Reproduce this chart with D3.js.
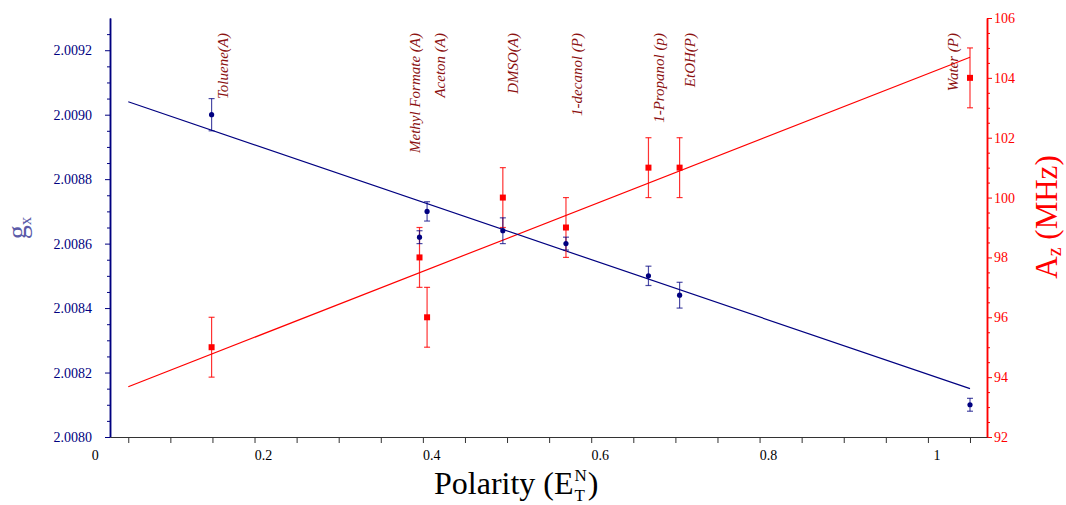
<!DOCTYPE html>
<html>
<head>
<meta charset="utf-8">
<script src="https://cdn.jsdelivr.net/npm/d3@7"></script>
<style>
  body { margin: 0; background: #fff; }
  text { font-family: "Liberation Serif", "Times New Roman", serif; }
</style>
</head>
<body>
<svg width="1066" height="505"></svg>
<script>
// solvents, polarity (E_T^N) and measured values
const solvents = ["Toluene(A)", "Methyl Formate (A)", "Aceton (A)", "DMSO(A)", "1-decanol (P)", "1-Propanol (p)", "EtOH(P)", "Water (P)"];
const polarity = [0.149, 0.396, 0.405, 0.495, 0.570, 0.668, 0.705, 1.050];
const labelPos = [0.1685, 0.3966, 0.4263, 0.513, 0.589, 0.6865, 0.7233, 1.0358];
const gx = [2.00900, 2.00862, 2.00870, 2.00864, 2.00860, 2.00850, 2.00844, 2.00810];
const gxErr = [0.00005, 0.00002, 0.00003, 0.00004, 0.00002, 0.00003, 0.00004, 0.00002];
const az = [95, 98, 96, 100, 99, 101, 101, 104];
const azErr = [1, 1, 1, 1, 1, 1, 1, 1];

// linear fits (end points)
const fitX = [0.05, 1.05];
const fitGx = [2.00904, 2.00815];
const fitAz = [93.68, 104.69];

const xLabels = [0, 0.2, 0.4, 0.6, 0.8, 1];

const navy = '#000080', red = '#ff0000';
let svg = d3.select('svg');

let x = d3.scaleLinear().domain([0.0283, 1.0702]).range([110, 987]);
let yL = d3.scaleLinear().domain([2.0080, 2.0093]).range([437, 18]);
let yR = d3.scaleLinear().domain([92, 106]).range([437, 18]);

// ---- axes ----
let leftMajor = d3.range(7).map(i => 2.0080 + i * 0.0002);
let leftMinor = d3.range(26).filter(i => i % 4 != 0).map(i => 2.0080 + i * 0.00005);
let rightMajor = d3.range(8).map(i => 92 + i * 2);
let rightMinor = d3.range(28).filter(i => i % 4 != 0).map(i => 92 + i * 0.5);

function styleAxis(g, col) {
  g.select('.domain').attr('stroke', col).attr('stroke-width', 1.5);
  g.selectAll('.tick line').attr('stroke', col);
  g.selectAll('.tick text').attr('fill', col).style('font-size', '14px')
    .style('font-family', '"Liberation Serif", serif');
}

let gLeft = svg.append('g').attr('transform', 'translate(110,0)')
  .call(d3.axisLeft(yL).tickValues(leftMajor).tickFormat(d3.format('.4f'))
    .tickSizeInner(5).tickSizeOuter(0).tickPadding(13));
styleAxis(gLeft, navy);
let gLeftMinor = svg.append('g').attr('transform', 'translate(110,0)')
  .call(d3.axisLeft(yL).tickValues(leftMinor).tickFormat('').tickSizeInner(3).tickSizeOuter(0));
styleAxis(gLeftMinor, navy);

let gRight = svg.append('g').attr('transform', 'translate(987,0)')
  .call(d3.axisRight(yR).tickValues(rightMajor).tickFormat(d3.format('d'))
    .tickSizeInner(5).tickSizeOuter(0).tickPadding(2));
styleAxis(gRight, red);
let gRightMinor = svg.append('g').attr('transform', 'translate(987,0)')
  .call(d3.axisRight(yR).tickValues(rightMinor).tickFormat('').tickSizeInner(3).tickSizeOuter(0));
styleAxis(gRightMinor, red);

let gBottom = svg.append('g').attr('transform', 'translate(0,437)')
  .call(d3.axisBottom(x).tickValues(d3.range(21).map(i => 0.05 + i * 0.05))
    .tickFormat('').tickSizeInner(6).tickSizeOuter(0));
styleAxis(gBottom, '#333');
gBottom.select('.domain').attr('stroke-width', 1.2);

svg.append('g').selectAll('text')
  .data(xLabels)
  .enter().append('text')
    .attr('x', d => x(d) + 9)
    .attr('y', 460)
    .attr('text-anchor', 'middle')
    .style('font-size', '14px')
    .attr('fill', '#000')
    .text(d => String(d));

// ---- fit lines ----
svg.append('line')
  .attr('x1', x(fitX[0])).attr('x2', x(fitX[1]))
  .attr('y1', yR(fitAz[0])).attr('y2', yR(fitAz[1]))
  .attr('stroke', red).attr('stroke-width', 1.2);
svg.append('line')
  .attr('x1', x(fitX[0])).attr('x2', x(fitX[1]))
  .attr('y1', yL(fitGx[0])).attr('y2', yL(fitGx[1]))
  .attr('stroke', navy).attr('stroke-width', 1.2);

// ---- error bars + markers ----
function errorBars(vals, errs, scale, col, op) {
  let g = svg.append('g').attr('stroke', col).attr('stroke-opacity', op).attr('stroke-width', 1.2);
  vals.forEach(function(v, i) {
    let cx = x(polarity[i]);
    let y1 = scale(v - errs[i]), y2 = scale(v + errs[i]);
    g.append('line').attr('x1', cx).attr('x2', cx).attr('y1', y1).attr('y2', y2);
    g.append('line').attr('x1', cx - 3).attr('x2', cx + 3).attr('y1', y1).attr('y2', y1);
    g.append('line').attr('x1', cx - 3).attr('x2', cx + 3).attr('y1', y2).attr('y2', y2);
  });
}

errorBars(az, azErr, yR, red, 0.8);
svg.append('g').selectAll('rect')
  .data(az)
  .enter().append('rect')
    .attr('x', (d, i) => x(polarity[i]) - 3)
    .attr('y', d => yR(d) - 3)
    .attr('width', 6)
    .attr('height', 6)
    .attr('fill', red);

errorBars(gx, gxErr, yL, navy, 0.7);
svg.append('g').selectAll('circle')
  .data(gx)
  .enter().append('circle')
    .attr('cx', (d, i) => x(polarity[i]))
    .attr('cy', d => yL(d))
    .attr('r', 2.6)
    .attr('fill', navy);

// ---- solvent labels ----
svg.append('g').selectAll('text')
  .data(solvents)
  .enter().append('text')
    .attr('transform', (d, i) => 'translate(' + x(labelPos[i]) + ',33) rotate(-90)')
    .attr('text-anchor', 'end')
    .style('font-size', '15px')
    .style('font-style', 'italic')
    .attr('fill', '#8b1010')
    .text(d => d);

// ---- axis titles ----
let tL = svg.append('text')
  .attr('transform', 'translate(26,228) rotate(-90)')
  .attr('text-anchor', 'middle')
  .attr('fill', '#5a5aa8');
tL.append('tspan').style('font-size', '28px').text('g');
tL.append('tspan').style('font-size', '17px').attr('dy', 5).text('x');

let tR = svg.append('text')
  .attr('transform', 'translate(1057,217) rotate(-90)')
  .attr('text-anchor', 'middle')
  .attr('fill', red);
tR.append('tspan').style('font-size', '31px').text('A');
tR.append('tspan').style('font-size', '20px').attr('dy', 4).text('z');
tR.append('tspan').style('font-size', '31px').attr('dy', -4).text('\u00a0(MHz)');

let tx = svg.append('text')
  .attr('x', 434).attr('y', 494)
  .style('font-size', '32px')
  .attr('fill', '#000')
  .text('Polarity (E');
let w = tx.node().getComputedTextLength();
let sx = 434 + w + 1;
let tT = svg.append('text').attr('x', sx).attr('y', 501).style('font-size', '17px').attr('fill', '#000').text('T');
let tN = svg.append('text').attr('x', sx).attr('y', 481).style('font-size', '17px').attr('fill', '#000').text('N');
let sw = Math.max(tT.node().getComputedTextLength(), tN.node().getComputedTextLength());
svg.append('text').attr('x', sx + sw + 1).attr('y', 494).style('font-size', '32px').attr('fill', '#000').text(')');
</script>
</body>
</html>
